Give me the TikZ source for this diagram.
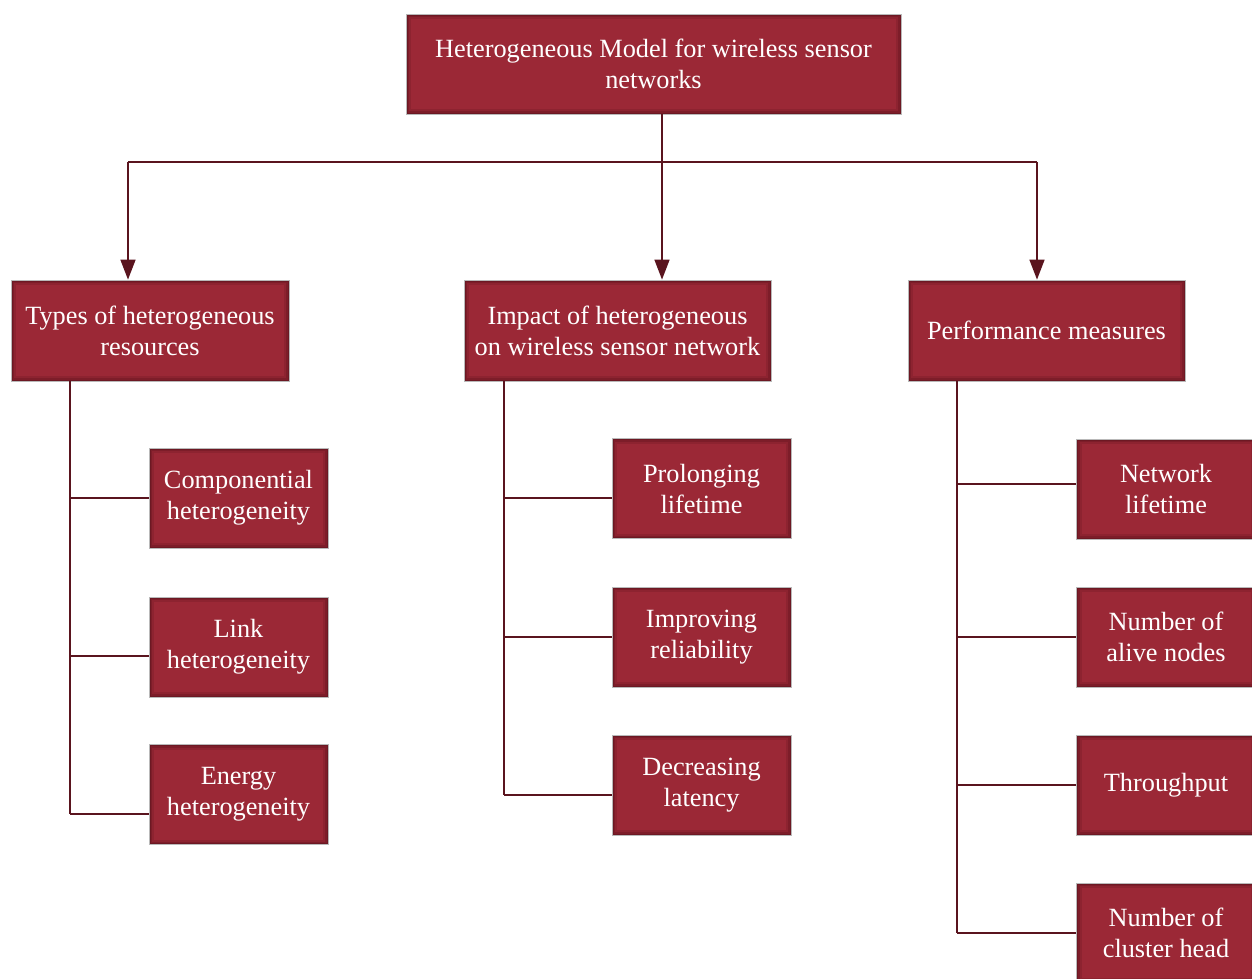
\documentclass[tikz,border=0pt]{standalone}
\usepackage{fontspec}
\setmainfont{Liberation Serif}
\usetikzlibrary{arrows.meta}
\definecolor{boxred}{HTML}{9B2836}
\definecolor{boxedge}{HTML}{4E0F18}
\definecolor{linered}{HTML}{5A141E}
\begin{document}
\begin{tikzpicture}[x=1pt,y=-1pt,
  box/.style={rectangle, fill=boxred, draw=gray!55, line width=0.8pt,
    text=white, align=center, inner sep=0pt,
    font=\fontsize{26.3}{31}\selectfont,
    path picture={
      \foreach \w/\o in {10/0.18,6/0.25,3/0.35}{
        \draw[boxedge, opacity=\o, line width=\w pt]
          (path picture bounding box.south west) rectangle
          (path picture bounding box.north east);}}},
  sub/.style={box, minimum width=179pt, minimum height=100pt},
  conn/.style={draw=linered, line width=1.6pt},
  arr/.style={conn, -{Triangle[length=20pt,width=15pt]}}]
\useasboundingbox (0,0) rectangle (1252,978);

\node[box, minimum width=495pt, minimum height=100pt] (top) at (653.5,64)
  {Heterogeneous Model for wireless sensor\\networks};
\node[box, minimum width=278pt, minimum height=101pt] (types) at (150,330.5)
  {Types of heterogeneous\\resources};
\node[box, minimum width=307pt, minimum height=101pt] (impact) at (617.5,330.5)
  {Impact of heterogeneous\\on wireless sensor network};
\node[box, minimum width=277pt, minimum height=101pt] (perf) at (1046.5,330.5)
  {Performance measures};

\node[sub] (comp) at (238.5,498) {Componential\\heterogeneity};
\node[sub] (link) at (238.5,647) {Link\\heterogeneity};
\node[sub] (energy) at (238.5,794.5) {Energy\\heterogeneity};

\node[sub] (prol) at (701.5,488.5) {Prolonging\\lifetime};
\node[sub] (impr) at (701.5,637) {Improving\\reliability};
\node[sub] (decr) at (701.5,785) {Decreasing\\latency};

\node[sub] (netw) at (1166,489) {Network\\lifetime};
\node[sub] (alive) at (1166,637) {Number of\\alive nodes};
\node[sub] (thru) at (1166,785) {Throughput};
\node[sub] (clus) at (1166,933) {Number of\\cluster head};

% top level connectors
\coordinate (j) at (662,162);
\coordinate (hl) at (128,162);
\coordinate (hr) at (1037,162);
\draw[conn] (top.south -| j) -- (j);
\draw[conn] (hl) -- (hr);
\draw[arr] (hl) -- (hl |- types.north);
\draw[arr] (j) -- (j |- impact.north);
\draw[arr] (hr) -- (hr |- perf.north);

% left tree
\coordinate (a1) at (70,498);
\coordinate (a2) at (70,656);
\coordinate (a3) at (70,814);
\draw[conn] (types.south -| a3) -- (a3);
\draw[conn] (a1) -- (a1 -| comp.west);
\draw[conn] (a2) -- (a2 -| link.west);
\draw[conn] (a3) -- (a3 -| energy.west);

% middle tree
\coordinate (b1) at (504,498);
\coordinate (b2) at (504,637);
\coordinate (b3) at (504,795);
\draw[conn] (impact.south -| b3) -- (b3);
\draw[conn] (b1) -- (b1 -| prol.west);
\draw[conn] (b2) -- (b2 -| impr.west);
\draw[conn] (b3) -- (b3 -| decr.west);

% right tree
\coordinate (c1) at (957,484);
\coordinate (c2) at (957,637);
\coordinate (c3) at (957,785);
\coordinate (c4) at (957,933);
\draw[conn] (perf.south -| c4) -- (c4);
\draw[conn] (c1) -- (c1 -| netw.west);
\draw[conn] (c2) -- (c2 -| alive.west);
\draw[conn] (c3) -- (c3 -| thru.west);
\draw[conn] (c4) -- (c4 -| clus.west);
\end{tikzpicture}
\end{document}
